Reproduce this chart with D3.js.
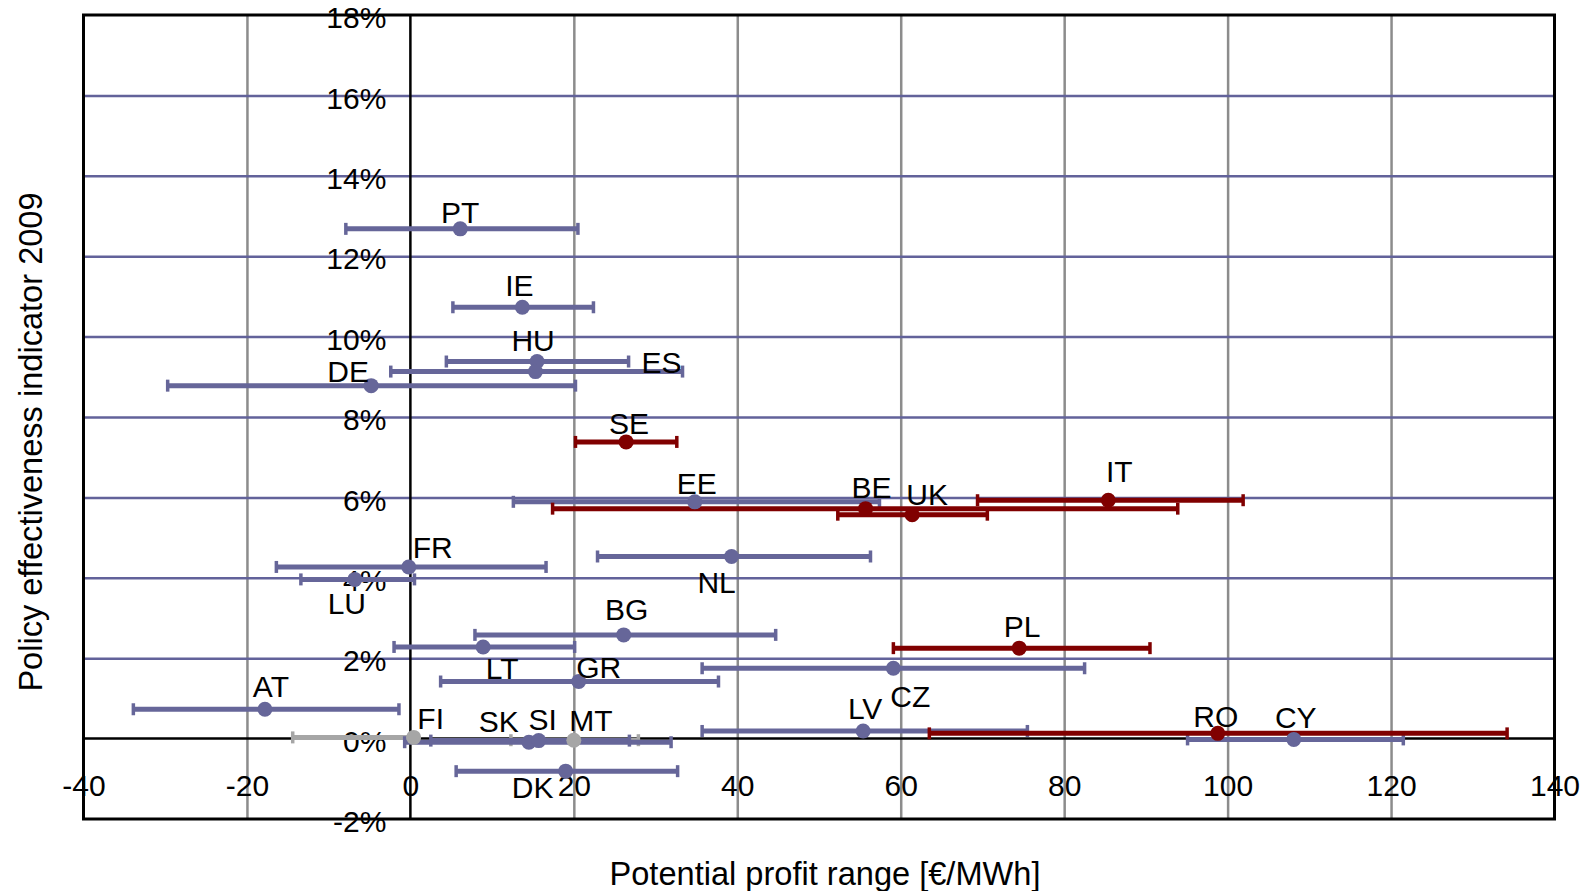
<!DOCTYPE html>
<html>
<head>
<meta charset="utf-8">
<script src="https://cdn.jsdelivr.net/npm/d3@7"></script>
<style>
  body { margin: 0; background: #fff; }
  svg { display: block; font-family: "Liberation Sans", Arial, sans-serif; }
</style>
</head>
<body>
<svg id="chart"></svg>
<script>
const width = 1588;
const height = 891;

// profit range per country [€/MWh] and policy effectiveness 2009
const countries     = ['PT', 'IE', 'HU', 'ES', 'DE', 'SE', 'EE', 'BE', 'UK', 'IT', 'FR', 'LU', 'NL', 'BG',
                       'LT', 'GR', 'AT', 'PL', 'CZ', 'LV', 'RO', 'CY', 'FI', 'SK', 'SI', 'MT', 'DK'];
const profitMid     = [6.1, 13.7, 15.5, 15.3, -4.8, 26.4, 34.8, 55.7, 61.4, 85.4, -0.2, -6.8, 39.3, 26.1,
                       8.9, 20.6, -17.8, 74.5, 59.1, 55.4, 98.8, 108.1, 0.4, 14.5, 15.7, 20.0, 19.0];
const profitLow     = [-7.9, 5.2, 4.4, -2.4, -29.7, 20.2, 12.6, 17.4, 52.3, 69.4, -16.4, -13.4, 22.9, 7.9,
                       -2.0, 3.7, -33.9, 59.1, 35.7, 35.7, 63.5, 95.1, -14.4, -0.7, 2.5, 12.3, 5.6];
const profitHigh    = [20.5, 22.4, 26.7, 33.3, 20.2, 32.6, 57.4, 93.9, 70.6, 101.9, 16.6, 0.5, 56.3, 44.7,
                       20.1, 37.7, -1.4, 90.5, 82.5, 75.5, 134.2, 121.5, 0.5, 31.9, 26.8, 27.9, 32.7];
const effectiveness = [0.1268, 0.1073, 0.0938, 0.0913, 0.0878, 0.0738, 0.0589, 0.0572, 0.0557, 0.0593, 0.0427, 0.0396, 0.0453, 0.0258,
                       0.0228, 0.0142, 0.0073, 0.0225, 0.0175, 0.0019, 0.0013, -0.0002, 0.0003, -0.0009, -0.0005, -0.0004, -0.0081];
const scheme        = ['FIT', 'FIT', 'FIT', 'FIT', 'FIT', 'Quota', 'FIT', 'Quota', 'Quota', 'Quota', 'FIT', 'FIT', 'FIT', 'FIT',
                       'FIT', 'FIT', 'FIT', 'Quota', 'FIT', 'FIT', 'Quota', 'FIT', 'Other', 'FIT', 'FIT', 'Other', 'FIT'];

const xTicks = [-40, -20, 0, 20, 40, 60, 80, 100, 120, 140];
const yTicks = [-0.02, 0, 0.02, 0.04, 0.06, 0.08, 0.10, 0.12, 0.14, 0.16, 0.18];

// label placement relative to the point, in pixels
const labelShift = {
  PT: [0, -17], IE: [-3, -22], HU: [-4, -21], ES: [126, -9], DE: [-23, -14], SE: [3, -19],
  EE: [2, -19], BE: [6, -21], UK: [15, -20], IT: [11, -29], FR: [24, -20], LU: [-8, 24],
  NL: [-15, 26], BG: [3, -26], LT: [19, 21], GR: [20, -14], AT: [6, -23], PL: [3, -22],
  CZ: [17, 28], LV: [2, -23], RO: [-2, -17], CY: [2, -22], FI: [17, -19], SK: [-30, -21],
  SI: [4, -21], MT: [17, -20], DK: [-33, 16]
};

const rows = countries.map((c, i) => ({
  country: c, mid: profitMid[i], low: profitLow[i], high: profitHigh[i],
  eff: effectiveness[i], scheme: scheme[i]
}));

const plot = { left: 83.5, right: 1554.5, top: 15, bottom: 819 };

const x = d3.scaleLinear().domain([-40, 140]).range([plot.left, plot.right]);
const y = d3.scaleLinear().domain([-0.02, 0.18]).range([plot.bottom, plot.top]);
const colour = d3.scaleOrdinal()
  .domain(['Other', 'FIT', 'Quota'])
  .range(['#a6a6a6', '#666699', '#800000']);

const svg = d3.select('#chart').attr('width', width).attr('height', height);

// vertical grid
svg.append('g')
  .attr('transform', `translate(0,${plot.bottom})`)
  .call(d3.axisBottom(x).tickValues(xTicks.filter(v => v !== 0 && v > -40 && v < 140))
    .tickSize(-(plot.bottom - plot.top)).tickFormat(''))
  .call(g => g.select('.domain').remove())
  .call(g => g.selectAll('line').attr('stroke', '#8c8c8c').attr('stroke-width', 2.5));

// horizontal grid
svg.append('g')
  .attr('transform', `translate(${plot.left},0)`)
  .call(d3.axisLeft(y).tickValues(yTicks.filter(v => v > -0.02 && v < 0.18 && v !== 0))
    .tickSize(-(plot.right - plot.left)).tickFormat(''))
  .call(g => g.select('.domain').remove())
  .call(g => g.selectAll('line').attr('stroke', '#62629a').attr('stroke-width', 2.5));

// zero lines
svg.append('line')
  .attr('x1', x(0)).attr('x2', x(0)).attr('y1', plot.top).attr('y2', plot.bottom)
  .attr('stroke', '#000').attr('stroke-width', 2.5);
svg.append('line')
  .attr('x1', plot.left).attr('x2', plot.right).attr('y1', y(0)).attr('y2', y(0))
  .attr('stroke', '#000').attr('stroke-width', 2.5);

// x tick labels, below the zero line
svg.append('g')
  .attr('transform', `translate(0,${y(0) + 36})`)
  .call(d3.axisBottom(x).tickValues(xTicks).tickSize(0).tickPadding(0).tickFormat(d => String(d)))
  .call(g => g.select('.domain').remove())
  .call(g => g.selectAll('text').attr('font-size', 30).attr('fill', '#000')
    .attr('font-family', '"Liberation Sans", Arial, sans-serif'));

// y tick labels, next to the zero line
svg.append('g')
  .attr('transform', `translate(${x(0) - 24},3)`)
  .call(d3.axisLeft(y).tickValues(yTicks).tickSize(0).tickPadding(0)
    .tickFormat(d => Math.round(d * 100) + '%'))
  .call(g => g.select('.domain').remove())
  .call(g => g.selectAll('text').attr('font-size', 30).attr('fill', '#000')
    .attr('font-family', '"Liberation Sans", Arial, sans-serif'));

// frame
svg.append('rect')
  .attr('x', plot.left).attr('y', plot.top)
  .attr('width', plot.right - plot.left).attr('height', plot.bottom - plot.top)
  .attr('fill', 'none').attr('stroke', '#000').attr('stroke-width', 3);

// error bars: grey first, then feed-in, then quota
const order = ['Other', 'FIT', 'Quota'];
const sorted = rows.slice().sort((a, b) => order.indexOf(a.scheme) - order.indexOf(b.scheme));

const bars = svg.append('g').selectAll('g')
  .data(sorted)
  .enter().append('g')
  .attr('stroke', d => colour(d.scheme));

bars.append('line')
  .attr('x1', d => x(d.low)).attr('x2', d => x(d.high))
  .attr('y1', d => y(d.eff)).attr('y2', d => y(d.eff))
  .attr('stroke-width', 5);

bars.selectAll('.cap')
  .data(d => [{ v: d.low, e: d.eff }, { v: d.high, e: d.eff }])
  .enter().append('line')
  .attr('class', 'cap')
  .attr('x1', d => x(d.v)).attr('x2', d => x(d.v))
  .attr('y1', d => y(d.e) - 6).attr('y2', d => y(d.e) + 6)
  .attr('stroke-width', 3.5);

// centre points
svg.append('g').selectAll('circle')
  .data(sorted)
  .enter().append('circle')
  .attr('cx', d => x(d.mid))
  .attr('cy', d => y(d.eff))
  .attr('r', 7.5)
  .attr('fill', d => colour(d.scheme));

// country labels
svg.append('g').selectAll('text')
  .data(rows)
  .enter().append('text')
  .attr('x', d => x(d.mid) + labelShift[d.country][0])
  .attr('y', d => y(d.eff) + labelShift[d.country][1])
  .attr('dy', '0.36em')
  .attr('text-anchor', 'middle')
  .attr('font-size', 30)
  .text(d => d.country);

// axis titles
svg.append('text')
  .attr('x', (plot.left + plot.right) / 2 + 6)
  .attr('y', 873)
  .attr('dy', '0.36em')
  .attr('text-anchor', 'middle')
  .attr('font-size', 32.6)
  .text('Potential profit range [€/MWh]');

svg.append('text')
  .attr('transform', 'translate(30,442) rotate(-90)')
  .attr('dy', '0.36em')
  .attr('text-anchor', 'middle')
  .attr('font-size', 32.6)
  .text('Policy effectiveness indicator 2009');
</script>
</body>
</html>
